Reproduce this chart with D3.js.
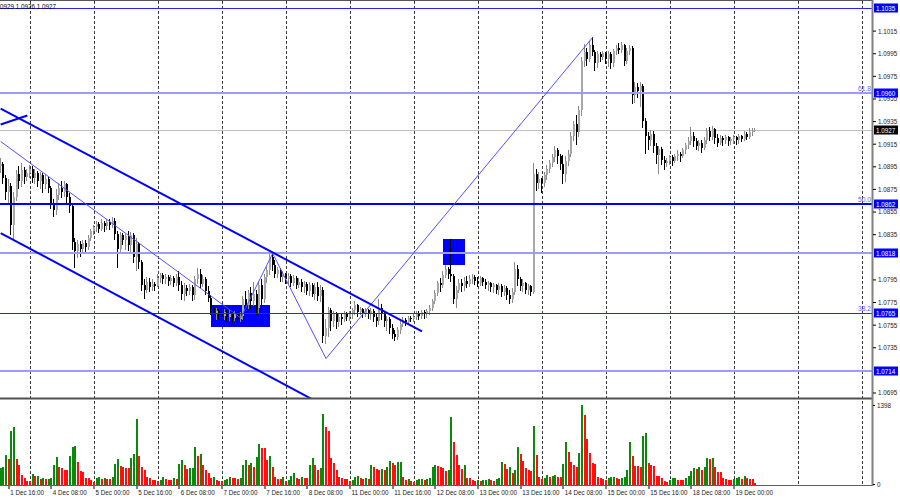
<!DOCTYPE html>
<html>
<head>
<meta charset="utf-8">
<script src="https://cdnjs.cloudflare.com/ajax/libs/d3/7.8.5/d3.min.js"></script>
<style>
  body { margin: 0; background: #fff; }
  svg { display: block; font-family: "Liberation Sans", Arial, sans-serif; }
</style>
</head>
<body>
<svg width="900" height="500"></svg>
<script>
// EURUSD H1, 1 Dec 13:00 -> 19 Dec 08:00
// prices are kept as pips above 1.0000 (895 = 1.0895), open = previous close
var days = ["1 Dec", "4 Dec", "5 Dec", "6 Dec", "7 Dec", "8 Dec", "11 Dec", "12 Dec", "13 Dec", "14 Dec", "15 Dec", "18 Dec", "19 Dec"];
var firstHour = 13;
var firstOpen = 895;

var closes = [
  897,885,872,878,843,868,888,882,892,886,889,
  893,885,889,882,887,879,884,876,862,856,870,876,872,879,868,860,828,820,826,822,827,824,832,838,
  841,844,840,845,842,846,843,847,835,822,834,830,833,825,834,815,826,810,790,786,793,788,791,789,
  796,799,795,797,794,796,792,797,790,782,787,785,788,781,795,800,791,795,785,779,770,764,767,765,
  763,766,762,765,761,764,760,763,778,772,783,776,782,770,790,778,797,803,815,808,800,803,797,800,
  795,798,792,796,790,793,788,791,785,790,782,788,780,786,745,752,768,758,764,757,762,760,764,762,
  764,768,772,766,769,765,768,764,767,762,758,770,764,758,760,752,747,744,750,756,759,757,761,760,
  762,765,763,766,764,767,770,776,783,792,790,799,804,800,798,778,786,792,789,794,791,795,797,794,
  792,796,793,790,792,788,790,786,789,784,787,781,778,784,804,795,789,792,786,789,784,888,880,884,
  880,887,893,898,903,909,904,897,888,900,906,922,932,925,945,988,996,990,1002,996,986,994,992,995,
  990,994,986,997,1000,998,1002,988,997,1000,958,965,962,966,935,922,918,924,913,905,910,901,898,900,
  903,900,904,906,904,909,914,917,922,917,913,916,911,918,926,921,928,920,916,920,918,921,917,919,
  921,918,922,919,924,921,925,926,927
];

var highs = [
  902,899,887,884,880,872,892,895,898,894,893,
  896,895,893,891,890,889,888,886,878,866,875,880,882,882,880,871,862,832,830,829,830,830,834,840,
  843,847,846,848,847,848,848,850,849,838,837,836,835,838,837,836,832,828,812,795,797,796,795,793,
  800,801,801,800,799,799,798,800,802,794,792,790,791,790,798,805,804,799,797,789,781,772,770,769,
  768,769,768,768,767,767,766,766,780,785,786,788,793,786,794,795,800,806,818,818,812,806,805,802,
  801,801,800,799,798,796,795,794,793,793,792,792,793,790,788,760,771,770,767,766,765,765,767,766,
  767,770,776,773,771,770,770,769,770,769,765,778,773,766,763,762,756,750,753,758,762,761,763,763,
  765,767,767,768,768,769,772,778,786,794,796,802,808,806,831,800,789,795,795,797,798,799,800,799,
  797,798,797,795,794,793,792,791,792,791,790,789,786,787,810,808,797,795,793,791,790,898,893,890,
  885,890,896,901,906,913,911,906,905,904,909,925,935,940,948,992,1003,1000,1006,1009,998,997,996,997,
  996,997,996,999,1002,1004,1005,1003,1000,1002,1001,970,969,970,968,938,925,927,926,916,913,912,904,902,
  905,905,906,909,908,911,916,921,930,925,920,918,918,921,929,930,931,929,924,923,922,923,922,921,
  923,922,924,923,926,925,929,929,929
];

var lows = [
  890,880,866,862,835,832,865,876,878,880,883,
  886,881,880,878,876,872,876,872,858,851,853,866,868,869,862,855,822,806,815,816,818,819,822,830,
  835,838,837,839,838,840,840,841,831,806,818,826,822,821,818,810,803,805,786,779,784,785,786,786,
  789,793,792,792,790,791,789,790,786,778,777,781,782,777,778,792,788,789,782,776,764,759,760,761,
  758,760,758,759,757,759,756,758,760,768,770,770,772,764,765,762,775,793,800,803,797,797,794,794,
  792,792,789,790,787,788,785,784,782,781,780,778,777,776,740,739,745,750,754,752,754,756,758,759,
  759,761,764,763,764,762,763,761,760,758,754,756,760,754,750,748,743,741,742,748,754,755,756,758,
  758,760,760,761,761,762,764,768,774,781,785,788,797,796,794,774,771,784,785,786,788,789,792,791,
  789,790,790,787,786,785,784,783,782,780,781,778,774,775,782,790,786,785,783,782,781,783,874,876,
  872,878,884,890,895,900,898,893,880,882,896,904,918,915,922,940,984,985,988,993,980,983,988,990,
  986,984,982,984,994,995,996,985,986,994,951,952,956,948,930,907,910,914,908,898,889,897,893,895,
  897,896,899,901,900,903,907,911,915,913,910,909,908,910,916,918,919,916,913,915,914,916,914,915,
  916,915,916,917,918,919,920,923,926
];

var volumes = [
  280,300,510,440,930,1000,450,330,160,110,60,
  55,175,140,145,95,100,90,95,110,330,470,300,280,245,240,490,650,665,385,230,210,105,100,70,
  35,105,125,85,100,85,80,125,350,440,315,295,280,275,455,525,1155,490,300,245,125,105,70,65,
  55,70,125,85,70,65,100,85,350,420,330,260,280,290,650,490,525,330,245,190,105,125,70,55,
  50,70,85,125,105,100,85,100,330,420,330,365,300,470,700,645,630,420,490,300,125,85,80,125,
  60,70,140,190,105,85,125,105,100,330,455,330,245,280,1240,1000,945,455,365,245,125,105,85,80,
  55,70,125,140,105,85,100,85,330,300,265,245,260,245,300,400,365,330,385,390,125,70,85,50,
  35,70,85,90,70,90,100,300,330,315,295,280,230,245,1190,750,510,330,260,330,105,100,70,55,
  70,55,70,75,85,70,55,85,105,385,350,265,300,190,245,650,525,400,280,245,230,1030,510,125,
  85,105,160,125,140,160,125,120,350,735,560,385,330,300,545,1398,1225,790,545,365,360,125,105,85,
  70,105,125,130,105,90,105,125,245,750,490,315,310,300,855,910,365,330,315,140,135,105,55,35,
  70,105,110,70,68,65,105,140,230,280,260,300,245,300,455,440,455,300,210,205,105,85,70,65,
  85,105,125,85,140,105,85,80,20
];

var timeLabels = ["1 Dec 16:00", "4 Dec 08:00", "5 Dec 00:00", "5 Dec 16:00", "6 Dec 08:00", "7 Dec 00:00",
  "7 Dec 16:00", "8 Dec 08:00", "11 Dec 00:00", "11 Dec 16:00", "12 Dec 08:00", "13 Dec 00:00",
  "13 Dec 16:00", "14 Dec 08:00", "15 Dec 00:00", "15 Dec 16:00", "18 Dec 08:00", "19 Dec 00:00"];

// 1.0715 and 1.0815 sit under the level tags, as in the terminal
var priceTicks = [1.0695, 1.0735, 1.0755, 1.0775, 1.0795, 1.0835, 1.0855, 1.0875,
  1.0895, 1.0915, 1.0935, 1.0955, 1.0975, 1.0995, 1.1015];
var volumeTicks = [0, 1398];

// horizontal levels and fibo captions
var levelPrices = [1.1035, 1.0960, 1.0862, 1.0818, 1.0765, 1.0714];
var fibNames = ["61.8", "50.0", "38.2"];
var fibPrices = [1.0960, 1.0862, 1.0765];
var quoteText = "0929 1.0926 1.0927";

// drawn objects: [bar index, price]
var channelUpper = [[0, 1.0946], [158, 1.0749]];
var channelLower = [[0, 1.0836], [120, 1.0685]];
var shortLine = [[0, 1.0932], [10, 1.0940]];
var zigzag = [[0, 1.0917], [90, 1.0761], [102, 1.0818], [122, 1.0725], [222, 1.1009]];
var boxes = [[79, 101, 1.0772, 1.0753], [166, 174, 1.0831, 1.0808]];

var svg = d3.select("svg"),
    width = +svg.attr("width"),
    height = +svg.attr("height");

var chartRight = 872, priceBottom = 398, volBottom = 485;
var fontSize = 7.5;

function px(v) { return 1 + v / 10000; }

// terminal font is narrower than Liberation Sans: scale the text horizontally
function squeeze(sel) {
  sel.each(function() {
    var t = d3.select(this);
    var x0 = +t.attr("x") || 0;
    t.attr("x", 0).attr("transform", "translate(" + x0 + ",0) scale(0.84,1)");
  });
}

var bars = [];
var di = 0, hr = firstHour;
closes.forEach(function(c, i) {
  bars.push({
    i: i, day: days[di], hour: hr,
    open: px(i ? closes[i - 1] : firstOpen), close: px(c),
    high: px(highs[i]), low: px(lows[i]),
    vol: volumes[i], volUp: i === 0 || volumes[i] > volumes[i - 1]
  });
  hr++;
  if (hr === 24) { hr = 0; di++; }
});
bars.forEach(function(d) {
  d.label = d.day + " " + (d.hour < 10 ? "0" : "") + d.hour + ":00";
});

var x = d3.scaleLinear().domain([-0.25, 326.75]).range([0, chartRight]);
var y = d3.scaleLinear().domain([1.0695, 1.1035]).range([392.5, 8]);
var yVol = d3.scaleLinear().domain([0, 1398]).range([484, 405]);

function cx(i) { return Math.round(x(i)); }

svg.append("rect").attr("width", width).attr("height", height).attr("fill", "#fff");

svg.append("clipPath").attr("id", "pclip")
  .append("rect").attr("x", 0).attr("y", 0).attr("width", chartRight).attr("height", priceBottom);

// day grid
var gridIdx = bars.filter(function(d) { return d.hour === 0; }).map(function(d) { return d.i; });
var nd = gridIdx[gridIdx.length - 1] + 24;
while (nd < x.domain()[1]) { gridIdx.push(nd); nd += 24; }

svg.append("g")
  .selectAll("line")
  .data(gridIdx)
  .enter().append("line")
    .attr("x1", function(d) { return cx(d) + 0.5; })
    .attr("x2", function(d) { return cx(d) + 0.5; })
    .attr("y1", 1)
    .attr("y2", volBottom)
    .attr("stroke", "#3a3a3a")
    .attr("stroke-dasharray", "3,2")
    .attr("shape-rendering", "crispEdges");

var price = svg.append("g").attr("clip-path", "url(#pclip)");

// rectangles sit behind the candles
price.append("g")
  .selectAll("rect")
  .data(boxes)
  .enter().append("rect")
    .attr("x", function(d) { return cx(d[0]); })
    .attr("width", function(d) { return cx(d[1]) - cx(d[0]); })
    .attr("y", function(d) { return Math.round(y(d[2])); })
    .attr("height", function(d) { return Math.round(y(d[3])) - Math.round(y(d[2])); })
    .attr("fill", "#0000ff");

// bid line
var last = bars[bars.length - 1];
price.append("line")
  .attr("x1", 0).attr("x2", chartRight)
  .attr("y1", Math.round(y(last.close)) + 0.5)
  .attr("y2", Math.round(y(last.close)) + 0.5)
  .attr("stroke", "#c0c0c0");

// candles
var candle = price.append("g")
  .selectAll("g")
  .data(bars)
  .enter().append("g")
    .attr("shape-rendering", "crispEdges");

candle.append("line")
  .attr("x1", function(d) { return cx(d.i) - 0.5; })
  .attr("x2", function(d) { return cx(d.i) - 0.5; })
  .attr("y1", function(d) { return Math.round(y(d.high)); })
  .attr("y2", function(d) { return Math.round(y(d.low)) + 1; })
  .attr("stroke", function(d) { return d.close >= d.open ? "#8a8a8a" : "#000"; });

candle.append("rect")
  .attr("x", function(d) { return cx(d.i) - 1; })
  .attr("width", 2)
  .attr("y", function(d) { return Math.round(y(Math.max(d.open, d.close))); })
  .attr("height", function(d) {
    return Math.max(1, Math.round(y(Math.min(d.open, d.close))) - Math.round(y(Math.max(d.open, d.close))));
  })
  .attr("fill", function(d) { return d.close >= d.open ? "#a8a8a8" : "#000"; });

// horizontal levels
var levelColor = ["#2424ff", "#9c9cff", "#0000ff", "#9c9cff", "#2424ff", "#9c9cff"];
var levelWidth = [1, 2, 2, 2, 1, 2];

price.append("g")
  .selectAll("line")
  .data(levelPrices)
  .enter().append("line")
    .attr("x1", 0).attr("x2", chartRight)
    .attr("y1", function(d, i) { return Math.round(y(d)) + (levelWidth[i] === 1 ? 0.5 : 0); })
    .attr("y2", function(d, i) { return Math.round(y(d)) + (levelWidth[i] === 1 ? 0.5 : 0); })
    .attr("stroke", function(d, i) { return levelColor[i]; })
    .attr("stroke-width", function(d, i) { return levelWidth[i]; })
    .attr("shape-rendering", "crispEdges");

svg.append("g")
  .selectAll("text")
  .data(fibPrices)
  .enter().append("text")
    .attr("x", chartRight - 14)
    .attr("y", function(d) { return Math.round(y(d)) - 2; })
    .attr("font-size", 8)
    .attr("fill", "#6464ff")
    .text(function(d, i) { return fibNames[i]; })
    .call(squeeze);

// trend lines
var line = d3.line()
    .x(function(d) { return x(d[0]); })
    .y(function(d) { return y(d[1]); });

price.append("path").datum(zigzag)
  .attr("d", line).attr("fill", "none")
  .attr("stroke", "#5050ff").attr("stroke-width", 1);

[channelUpper, channelLower, shortLine].forEach(function(seg) {
  price.append("path").datum(seg)
    .attr("d", line).attr("fill", "none")
    .attr("stroke", "#0000ff").attr("stroke-width", 2);
});

// top-left quote text
svg.append("text")
  .attr("x", 0).attr("y", 9)
  .attr("font-size", fontSize)
  .attr("fill", "#000")
  .text(quoteText)
  .call(squeeze);

// volumes
svg.append("g")
  .selectAll("rect")
  .data(bars)
  .enter().append("rect")
    .attr("x", function(d) { return cx(d.i) - 1; })
    .attr("width", 2)
    .attr("y", function(d) { return Math.round(yVol(d.vol)); })
    .attr("height", function(d) { return 485 - Math.round(yVol(d.vol)); })
    .attr("fill", function(d) { return d.volUp ? "#0a8a0a" : "#ff1010"; })
    .attr("shape-rendering", "crispEdges");

// frame
svg.append("line").attr("x1", 0).attr("x2", chartRight).attr("y1", 0.5).attr("y2", 0.5)
  .attr("stroke", "#555");
svg.append("line").attr("x1", 0).attr("x2", chartRight).attr("y1", 398.5).attr("y2", 398.5)
  .attr("stroke", "#505050").attr("stroke-width", 2);
svg.append("line").attr("x1", 0).attr("x2", chartRight + 1).attr("y1", volBottom + 0.5).attr("y2", volBottom + 0.5)
  .attr("stroke", "#606060");
svg.append("line").attr("x1", chartRight + 0.5).attr("x2", chartRight + 0.5).attr("y1", 0).attr("y2", volBottom + 1)
  .attr("stroke", "#808080").attr("stroke-width", 2);

// price axis
var yAxis = svg.append("g")
  .attr("transform", "translate(" + (chartRight + 1) + ",0)")
  .call(d3.axisRight(y).tickValues(priceTicks).tickSize(3).tickPadding(2).tickFormat(d3.format(".4f")));
yAxis.select(".domain").remove();
yAxis.selectAll("text").attr("font-size", fontSize).attr("fill", "#222").call(squeeze);
yAxis.selectAll("line").attr("stroke", "#000");

// level captions on the axis
var tags = svg.append("g")
  .selectAll("g")
  .data(levelPrices.concat([last.close]))
  .enter().append("g")
    .attr("transform", function(d) { return "translate(" + (chartRight + 2) + "," + Math.round(y(d)) + ")"; });

tags.append("rect")
  .attr("x", 0).attr("y", -4.5).attr("width", 24).attr("height", 9)
  .attr("fill", function(d, i) { return i < levelPrices.length ? "#0000ff" : "#000"; });

tags.append("text")
  .attr("x", 2).attr("dy", "0.34em")
  .attr("font-size", fontSize)
  .attr("fill", "#fff")
  .text(function(d) { return d3.format(".4f")(d); })
  .call(squeeze);

// volume axis
var vAxis = svg.append("g")
  .attr("transform", "translate(" + (chartRight + 1) + ",0)")
  .call(d3.axisRight(yVol).tickValues(volumeTicks).tickSize(2).tickPadding(2).tickFormat(d3.format("d")));
vAxis.select(".domain").remove();
vAxis.selectAll("text").attr("font-size", fontSize).attr("fill", "#222").call(squeeze);
vAxis.selectAll("line").attr("stroke", "#000");

// time axis
var labelIdx = timeLabels.map(function(t) {
  return bars.filter(function(d) { return d.label === t; })[0].i;
});

var xAxis = svg.append("g")
  .attr("transform", "translate(0," + (volBottom + 1) + ")")
  .call(d3.axisBottom(x).tickValues(labelIdx).tickSize(3).tickPadding(1)
    .tickFormat(function(d, i) { return timeLabels[i]; }));
xAxis.select(".domain").remove();
xAxis.selectAll("line").attr("stroke", "#000")
  .attr("transform", function(d) { return "translate(" + (cx(d) - x(d) - 0.5) + ",0)"; });
xAxis.selectAll("text")
  .attr("text-anchor", "start")
  .attr("x", 1)
  .attr("font-size", fontSize)
  .attr("fill", "#222")
  .call(squeeze);
</script>
</body>
</html>
